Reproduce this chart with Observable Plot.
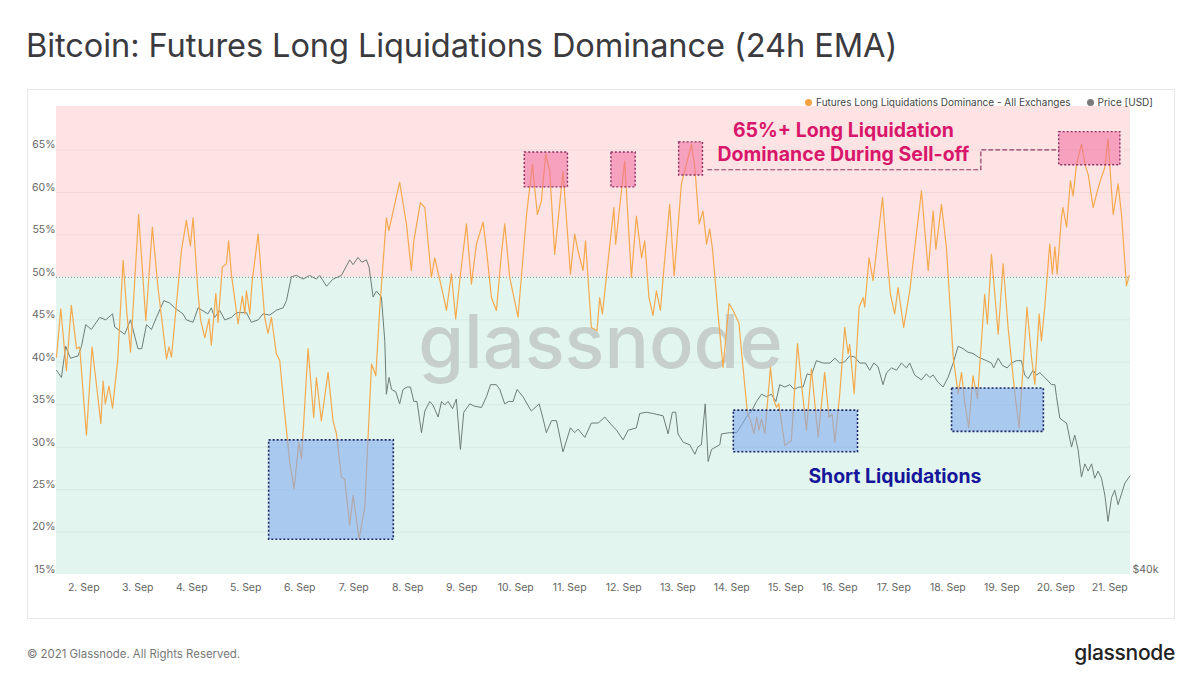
<!DOCTYPE html>
<html>
<head>
<meta charset="utf-8">
<script src="https://cdn.jsdelivr.net/npm/d3@7"></script>
<script src="https://cdn.jsdelivr.net/npm/@observablehq/plot@0.6"></script>
<style>
  body { margin: 0; background: #fff; font-family: Inter, "Noto Sans", sans-serif; }
  #wrap { position: relative; width: 1200px; height: 691px; overflow: hidden; background: #fff; }
  #title { position: absolute; left: 26px; top: 25px; font-size: 32.6px; color: #3b3b3f; white-space: nowrap; letter-spacing: -0.1px; }
  #card { position: absolute; left: 27px; top: 89px; width: 1148px; height: 530px; border: 1px solid #e8e8e8; box-sizing: border-box; }
  #chart { position: absolute; left: 0; top: 88px; }
  #legend { position: absolute; right: 47px; top: 96px; font-size: 10px; color: #444; display: flex; gap: 16px; white-space: nowrap; }
  #legend span.dot { display: inline-block; width: 7px; height: 7px; border-radius: 50%; margin-right: 4px; vertical-align: 0px; }
  #copy { position: absolute; left: 27px; top: 647px; font-size: 11.4px; color: #777; }
  #logo { position: absolute; right: 25px; top: 640px; font-size: 21px; color: #222; font-weight: 500; letter-spacing: -0.3px; }
</style>
</head>
<body>
<div id="wrap">
  <div id="title">Bitcoin: Futures Long Liquidations Dominance (24h EMA)</div>
  <div id="card"></div>
  <div id="chart"></div>
  <div id="legend">
    <div><span class="dot" style="background:#f4a340"></span>Futures Long Liquidations Dominance - All Exchanges</div>
    <div><span class="dot" style="background:#7a7a7a"></span>Price [USD]</div>
  </div>
  <div id="copy">© 2021 Glassnode. All Rights Reserved.</div>
  <div id="logo">glassnode</div>
</div>
<script>
// Time is given as hours since 2021-09-01 00:00 UTC
const domHours = [11.9,13.8,16.3,18.5,20.8,22.2,25.2,27.7,29.6,31.6,32.6,33.6,35.2,36.8,39.1,41.5,43.2,44.8,48.4,51.6,54.5,57.0,60.8,61.9,63.0,67.4,69.6,71.4,72.6,74.8,76.0,77.8,79.7,80.7,82.7,83.7,85.6,87.4,88.4,89.6,92.6,94.5,95.6,96.3,97.8,98.8,101.5,104.4,105.9,107.4,109.6,111.1,113.3,115.6,117.5,119.6,120.8,123.7,126.2,127.4,129.6,132.6,134.8,136.3,138.5,140.0,142.2,143.7,146.4,148.9,151.9,153.8,155.6,158.5,159.6,164.4,167.4,169.6,170.7,173.6,175.6,178.5,180.0,183.7,185.2,187.4,189.3,191.1,194.1,196.3,198.5,201.5,203.2,205.2,207.4,209.6,211.1,213.3,217.0,220.8,223.4,225.6,227.4,229.3,231.1,233.3,237.0,240.3,242.2,243.7,245.9,247.0,249.6,252.1,253.3,254.5,255.6,259.6,260.4,264.4,267.4,269.6,271.9,273.3,275.2,277.0,278.5,280.3,281.5,284.4,286.4,289.6,294.1,295.6,297.5,299.2,300.8,302.2,303.4,305.9,308.1,310.8,312.6,315.2,316.7,319.0,320.4,321.8,323.1,324.1,325.2,326.7,329.2,330.7,331.9,332.9,335.6,338.5,341.2,343.0,345.2,347.4,350.4,353.3,355.2,356.6,357.8,360.0,362.2,363.7,364.4,366.4,368.6,370.4,371.1,373.0,374.8,376.3,379.0,380.8,382.5,384.4,385.9,388.4,391.1,396.3,399.3,401.5,402.7,405.2,407.4,410.4,412.6,414.1,415.6,417.3,419.2,421.2,424.4,425.6,427.4,430.4,432.6,434.8,437.8,439.7,443.2,445.2,446.7,448.6,449.6,451.1,453.3,454.5,455.6,456.6,458.5,459.2,460.8,462.5,463.7,465.2,467.4,469.2,470.4,472.6,474.5,476.3,477.8,479.2,481.5,483.7,485.2,487.4,488.6];
const domValues = [40.6,46.3,39.0,46.7,41.6,41.8,31.4,41.8,37.5,32.8,37.8,35.1,37.2,34.6,40.2,52.0,45.7,41.2,57.4,44.9,55.9,48.8,40.4,41.8,40.6,53.1,56.7,53.7,57.0,48.1,44.9,42.9,45.1,42.0,48.1,44.7,51.2,51.6,54.3,50.4,44.5,47.8,45.7,48.4,45.7,49.4,55.1,45.3,43.4,45.3,41.0,40.2,34.0,28.1,25.1,30.6,28.6,41.6,33.5,38.2,33.1,38.8,33.1,31.6,26.5,26.2,20.8,24.3,19.2,22.9,39.8,38.4,46.5,57.0,55.5,61.2,56.3,50.8,54.3,58.8,58.2,50.0,52.3,48.0,46.1,50.4,45.1,49.6,56.3,49.2,53.9,56.5,52.7,47.6,46.1,52.7,56.3,50.0,45.3,57.4,63.3,57.4,59.0,64.5,62.5,52.7,62.5,50.4,55.1,53.1,50.8,54.3,44.1,43.7,47.6,45.7,48.4,58.2,53.9,63.7,50.0,57.2,52.3,54.3,47.6,45.5,48.4,46.1,50.0,58.6,50.2,61.0,65.7,62.9,56.3,57.8,53.9,55.7,53.4,45.7,39.4,46.9,46.1,44.6,40.2,33.9,33.1,31.6,33.5,32.0,33.3,31.6,39.4,35.5,34.7,35.1,30.2,30.8,42.2,37.4,32.0,39.2,31.2,38.8,33.5,33.9,30.6,36.3,44.1,41.0,42.1,36.3,46.5,47.6,46.5,52.3,49.6,53.1,59.4,53.1,48.0,45.7,48.8,44.1,48.4,60.2,50.8,57.8,53.3,58.6,53.5,40.6,36.3,38.8,35.1,32.3,38.4,35.7,48.0,44.5,52.7,43.3,51.6,44.1,36.3,32.3,46.5,40.6,37.4,45.7,42.5,46.5,53.9,50.4,53.6,50.4,57.0,58.2,55.9,61.4,59.6,63.3,65.7,63.1,62.1,58.2,60.2,61.8,62.9,66.3,57.4,61.0,57.4,49.0,50.2];

const priceHours = [11.9,14.1,16.0,18.1,21.5,23.0,24.9,27.4,31.1,33.8,36.8,37.8,42.2,44.8,48.1,49.8,51.9,54.1,56.3,59.6,62.2,64.4,68.1,69.6,72.6,74.8,79.2,80.7,82.2,84.4,86.7,89.6,91.9,96.3,98.5,101.5,103.7,106.7,109.6,112.6,114.1,116.3,118.5,121.5,124.4,127.4,128.9,131.9,134.8,138.5,142.2,143.7,145.9,147.6,149.6,150.8,152.6,154.1,156.3,157.8,158.5,159.7,160.8,162.7,164.4,165.9,167.7,169.2,170.7,172.1,174.1,175.6,177.8,179.2,181.5,183.0,184.4,185.9,187.9,189.6,191.4,192.9,195.6,197.8,200.8,203.0,204.8,207.4,208.9,211.1,212.9,214.8,216.6,219.2,222.9,226.4,228.1,229.6,231.9,234.1,237.0,240.3,242.2,243.7,246.7,249.6,252.6,255.6,257.8,260.8,263.7,265.9,269.6,271.1,274.1,276.9,281.5,283.7,285.6,287.1,288.1,290.4,293.3,295.6,296.9,298.5,300.2,301.5,303.0,306.7,307.4,311.1,314.1,316.3,318.5,320.8,323.0,325.2,327.4,329.6,331.6,333.3,335.6,337.8,339.7,341.8,343.7,345.5,347.4,349.6,352.6,355.6,357.8,360.0,362.2,364.4,366.7,368.9,371.4,373.3,375.1,377.0,379.2,380.8,383.0,385.2,387.4,389.6,391.1,393.3,396.3,398.5,400.0,401.5,403.7,405.9,408.1,410.4,412.6,414.8,417.0,419.2,421.5,425.2,427.4,428.4,430.4,432.3,434.4,436.3,438.5,440.7,442.2,443.7,445.9,447.4,448.9,451.1,454.1,455.6,456.3,457.8,459.2,460.8,463.0,464.4,465.9,467.4,468.9,470.4,471.9,473.3,474.8,476.3,477.8,479.2,480.8,482.2,483.7,485.2,486.7,489.0];
const priceValues = [48.3,48.0,49.3,48.8,48.9,49.3,50.2,50.0,50.5,50.4,50.65,50.1,49.8,50.4,49.2,49.2,50.2,50.0,50.5,51.2,51.1,50.9,50.65,50.4,50.3,50.9,50.65,50.9,50.5,50.8,50.4,50.5,50.7,50.7,50.3,50.4,50.65,50.6,50.8,50.9,51.2,52.2,52.25,52.1,52.25,52.1,52.25,51.8,52.1,52.25,52.9,52.7,53.0,52.8,52.9,52.6,51.35,51.6,51.35,49.5,47.3,48.0,47.5,47.4,46.9,47.5,47.6,47.6,47.0,47.0,45.7,46.6,47.0,46.85,46.35,47.0,46.85,47.0,46.7,47.1,45.0,46.55,46.9,46.8,46.75,47.2,47.7,47.7,47.5,46.9,47.0,47.0,47.5,47.2,46.6,46.9,46.3,45.7,46.2,46.2,44.9,45.9,45.7,45.85,45.5,46.1,46.1,46.35,46.1,45.8,45.4,45.8,45.9,46.5,46.55,46.5,46.4,45.65,46.55,46.55,45.65,45.3,45.2,44.8,45.1,45.2,46.9,44.5,45.0,45.2,45.65,45.7,45.7,46.0,46.35,46.6,47.0,47.3,47.2,47.3,47.0,47.7,47.6,47.7,47.5,47.6,47.6,48.15,48.1,48.7,48.6,48.6,48.8,48.6,48.65,48.9,48.85,48.6,48.6,48.3,48.6,48.45,47.7,48.2,48.4,48.3,48.6,48.4,48.6,48.1,47.9,48.15,48.0,48.1,47.8,47.6,48.0,48.6,49.3,49.2,49.05,49.0,48.85,48.7,48.6,48.4,48.8,48.5,48.4,48.6,48.7,48.7,48.1,47.95,48.3,48.1,48.2,48.0,47.7,47.7,47.2,46.3,46.2,46.1,45.1,45.6,45.0,43.85,44.4,44.1,44.4,43.8,44.1,43.8,43.1,42.0,43.0,43.3,42.7,43.15,43.6,43.9];

// Axis ticks
const pctTicks = [15,20,25,30,35,40,45,50,55,60,65];
const dayTicks = [2,3,4,5,6,7,8,9,10,11,12,13,14,15,16,17,18,19,20,21];
const priceTicks = [40];

// Annotation regions (hours, percent)
const longBoxes = [
  {h1:220.0, h2:239.2, v1:60.6, v2:64.7},
  {h1:258.5, h2:269.3, v1:60.6, v2:64.7},
  {h1:288.6, h2:299.2, v1:62.0, v2:65.9},
  {h1:457.5, h2:484.7, v1:63.2, v2:67.1}
];
const shortBoxes = [
  {h1:106.4, h2:161.8, v1:19.1, v2:30.8},
  {h1:312.9, h2:368.1, v1:29.4, v2:34.3},
  {h1:409.9, h2:450.7, v1:31.8, v2:36.9}
];
const connector = [{h:301.3, v:62.67},{h:422.7, v:62.67},{h:422.7, v:65.02},{h:457.5, v:65.02}];
const longLabel = {h:361.6, v:65.97, text:"65%+ Long Liquidation\nDominance During Sell-off"};
const shortLabel = {h:384.5, v:26.54, text:"Short Liquidations"};

const T0 = Date.UTC(2021, 8, 1);
const toDate = h => new Date(T0 + h * 3600e3);
const yTop = 70.12;
const xStart = toDate(11.9), xEnd = toDate(489.2);
const priceToPct = d3.scaleLinear().domain([39.79, 59.29]).range([15, yTop]);

const dominance = domHours.map((h, i) => ({date: toDate(h), value: domValues[i]}));
const price = priceHours.map((h, i) => ({date: toDate(h), value: priceToPct(priceValues[i])}));
const bands = [{y1: 50, y2: yTop, fill: "#fde3e4"}, {y1: 15, y2: 50, fill: "#e2f6ef"}];
const rectOf = b => ({x1: toDate(b.h1), x2: toDate(b.h2), y1: b.v1, y2: b.v2});

const chart = Plot.plot({
  width: 1200, height: 530,
  marginTop: 18, marginBottom: 44, marginLeft: 56, marginRight: 70,
  style: {fontFamily: "Inter, sans-serif", background: "transparent"},
  x: {type: "utc", domain: [xStart, xEnd], axis: null},
  y: {domain: [15, yTop], axis: null},
  marks: [
    Plot.rect(bands, {x1: () => xStart, x2: () => xEnd, y1: "y1", y2: "y2", fill: d => d.fill}),
    Plot.ruleY(pctTicks.filter(d => d !== 50 && d !== 15), {stroke: "#000", strokeOpacity: 0.05}),
    Plot.text(["glassnode"], {frameAnchor: "middle", dx: 7, dy: 4, fontSize: 74, fontWeight: 500, fill: "#c6cfcc"}),
    Plot.ruleY([50], {stroke: "#8a8a8a", strokeDasharray: "1,2", strokeWidth: 1}),
    Plot.line(price, {x: "date", y: "value", stroke: "#6e7d76", strokeWidth: 1}),
    Plot.line(dominance, {x: "date", y: "value", stroke: "#f5a94e", strokeWidth: 1.2}),
    Plot.rect(shortBoxes.map(rectOf), {x1: "x1", x2: "x2", y1: "y1", y2: "y2", fill: "#7fa9f0", fillOpacity: 0.58}),
    Plot.rect(shortBoxes.map(rectOf), {x1: "x1", x2: "x2", y1: "y1", y2: "y2", fill: "none", stroke: "#1b2566", strokeWidth: 1.6, strokeDasharray: "2,2"}),
    Plot.rect(longBoxes.map(rectOf), {x1: "x1", x2: "x2", y1: "y1", y2: "y2", fill: "#f06c9e", fillOpacity: 0.55}),
    Plot.rect(longBoxes.map(rectOf), {x1: "x1", x2: "x2", y1: "y1", y2: "y2", fill: "none", stroke: "#8e2d62", strokeWidth: 1.4, strokeDasharray: "2,2"}),
    Plot.line(connector, {x: d => toDate(d.h), y: "v", stroke: "#8e3a66", strokeWidth: 1.2, strokeDasharray: "4,3"}),
    Plot.text([longLabel], {x: d => toDate(d.h), y: "v", text: "text", fontSize: 19.5, fontWeight: 700, fill: "#d8176b", lineHeight: 1.23}),
    Plot.text([shortLabel], {x: d => toDate(d.h), y: "v", text: "text", fontSize: 19.4, fontWeight: 700, fill: "#16169a"}),
    Plot.text(pctTicks, {x: () => xStart, y: d => d, text: d => d + "%", textAnchor: "end", dx: -1, dy: -5, fontSize: 10.5, fill: "#666"}),
    Plot.text(dayTicks, {x: d => new Date(Date.UTC(2021, 8, d)), frameAnchor: "bottom", dy: 16, text: d => d + ". Sep", fontSize: 10.5, fill: "#666"}),
    Plot.text(priceTicks, {x: () => xEnd, y: d => priceToPct(d), text: d => "$" + d + "k", textAnchor: "start", dx: 2, fontSize: 10.5, fill: "#666"})
  ]
});
document.getElementById("chart").appendChild(chart);
</script>
</body>
</html>
